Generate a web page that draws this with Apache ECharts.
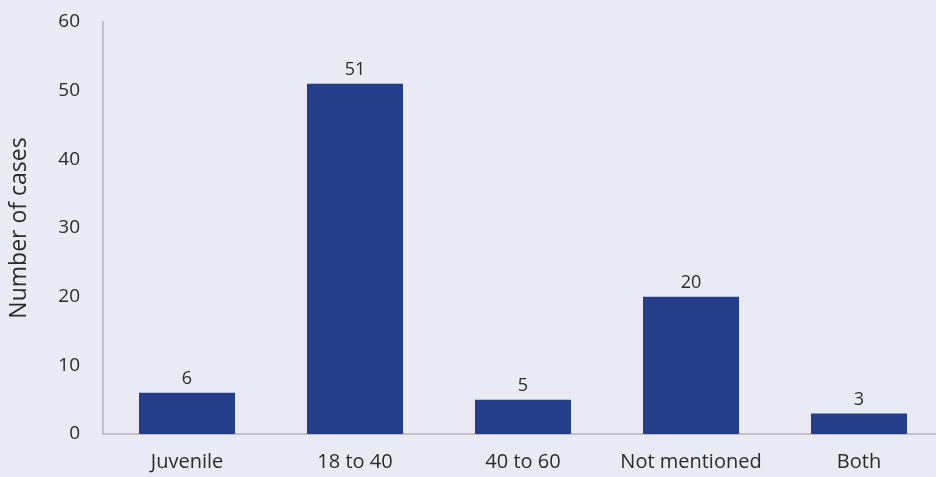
<!DOCTYPE html>
<html><head><meta charset="utf-8">
<script src="https://cdn.jsdelivr.net/npm/echarts@6/dist/echarts.min.js"></script>
<style>html,body{margin:0;padding:0;background:#eaeaf4}#c{width:936px;height:477px}</style>
</head><body><div id="c"></div>
<script>
const categories = ['Juvenile', '18 to 40', '40 to 60', 'Not mentioned', 'Both'];
const values = [6, 51, 5, 20, 3];
const yTicks = [0, 10, 20, 30, 40, 50, 60];
const FONT = 'Open Sans';
const chart = echarts.init(document.getElementById('c'));
chart.setOption({
  backgroundColor: '#eaeaf4',
  textStyle: { fontFamily: FONT },
  grid: { left: 103, right: -7, top: 22, bottom: 43, outerBoundsMode: 'none', containLabel: false },
  xAxis: {
    type: 'category', data: categories,
    axisLine: { lineStyle: { color: '#b4b4bf', width: 1.5 } },
    axisTick: { show: false },
    axisLabel: { color: '#2b2b2b', fontSize: 20, margin: 18, fontFamily: FONT, interval: 0, hideOverlap: false }
  },
  yAxis: {
    type: 'value', min: 0, max: 60, interval: 10,
    name: 'Number of cases', nameLocation: 'middle', nameGap: 72, nameRotate: 90,
    nameTextStyle: { color: '#2b2b2b', fontSize: 23, fontFamily: FONT },
    axisLine: { show: true, lineStyle: { color: '#b4b4bf', width: 1.5 } },
    axisTick: { show: false },
    splitLine: { show: false },
    axisLabel: { color: '#2b2b2b', fontSize: 19, margin: 23, fontFamily: FONT,
      formatter: v => yTicks.includes(v) ? String(v) : '' }
  },
  series: [{
    type: 'bar', data: values, barWidth: 96,
    itemStyle: { color: '#243e8c' },
    label: { show: true, position: 'top', color: '#2b2b2b', fontSize: 18, distance: 5, fontFamily: FONT }
  }]
});
</script></body></html>
